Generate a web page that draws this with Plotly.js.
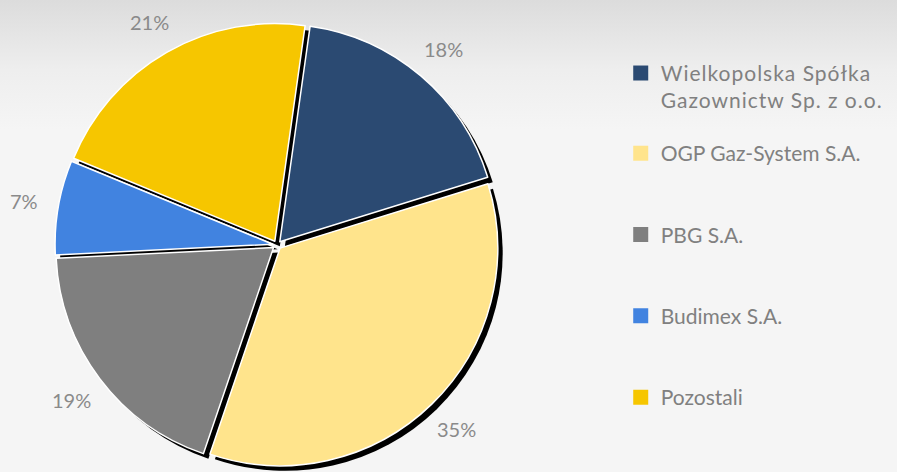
<!DOCTYPE html>
<html>
<head>
<meta charset="utf-8">
<script src="https://cdn.plot.ly/plotly-3.0.1.min.js"></script>
<style>
  html, body { margin: 0; padding: 0; }
  body { width: 897px; height: 472px; background: linear-gradient(#dcdcdc 0px, #eeeeee 70px, #f5f5f5 130px, #f5f5f5 472px); }
  #chart { width: 897px; height: 472px; }
  #chart .legendtext { letter-spacing: 1px; }
  #chart .legend .scrollbox { clip-path: none !important; }
</style>
</head>
<body>
<div id="chart"></div>
<script>
var labels = ['Wielkopolska Spółka<br>Gazownictw Sp. z o.o.', 'OGP Gaz-System S.A.', 'PBG S.A.', 'Budimex S.A.', 'Pozostali'];
var values = [18, 35, 19, 7, 21];
var colors = ['#2b4a72', '#ffe48c', '#7f7f7f', '#4183e0', '#f6c600'];

var W = 897, H = 472;
var PULL = 0.02;
var HALF = 222;            // half size of the pie domain, px
var CX = 277, CY = 227;    // pie centre, px from left / from bottom
var SHIFT = 5;             // shadow offset, px
var ROT = 8;

function dom(cx, cy) {
  return {x: [(cx - HALF) / W, (cx + HALF) / W], y: [Math.max(0, cy - HALF) / H, (cy + HALF) / H]};
}

var shadow = {
  type: 'pie', values: values, labels: labels, sort: false, direction: 'clockwise',
  rotation: ROT, pull: PULL, domain: dom(CX + SHIFT, CY - SHIFT),
  marker: {colors: values.map(function () { return '#000000'; })},
  textinfo: 'none', hoverinfo: 'skip', showlegend: false
};

var pie = {
  type: 'pie', values: values, labels: labels, sort: false, direction: 'clockwise',
  rotation: ROT, pull: PULL, domain: dom(CX, CY),
  marker: {colors: colors, line: {color: '#ffffff', width: 1.5}},
  textinfo: 'none', showlegend: false
};

// legend entries as separate traces so the gaps can be set
var data = [shadow, pie];
for (var i = 0; i < labels.length; i++) {
  data.push({
    type: 'scatter', x: [null], y: [null], mode: 'markers', name: labels[i],
    legendgroup: 'g' + i, legend: i === 0 ? 'legend' : 'legend2',
    marker: {symbol: 'square', size: 15, color: colors[i]}
  });
}

// percent labels outside the slices
var total = values.reduce(function (a, b) { return a + b; }, 0);
var R = HALF / (1 + PULL);
var annotations = [];
var start = ROT;
for (var i = 0; i < values.length; i++) {
  var span = values[i] / total * 360;
  var mid = (start + span / 2) * Math.PI / 180;
  start += span;
  var rr = R * 1.18;
  annotations.push({
    xref: 'paper', yref: 'paper', xanchor: 'center', yanchor: 'middle',
    x: (CX + rr * Math.sin(mid)) / W, y: (CY + rr * Math.cos(mid)) / H,
    text: Math.round(values[i] / total * 100) + '%', showarrow: false,
    font: {family: 'Lato, sans-serif', size: 20, color: '#8a8a8a'}
  });
}

var legendFont = {family: 'Lato, sans-serif', size: 21, color: '#808080'};
var layout = {
  width: W, height: H,
  margin: {l: 0, r: 0, t: 0, b: 0},
  paper_bgcolor: 'rgba(0,0,0,0)', plot_bgcolor: 'rgba(0,0,0,0)',
  xaxis: {visible: false}, yaxis: {visible: false},
  showlegend: true,
  legend: {
    x: 0.692, y: 0.888, xanchor: 'left', yanchor: 'top', valign: 'top',
    font: legendFont, bgcolor: 'rgba(0,0,0,0)'
  },
  legend2: {
    x: 0.692, y: 0.718, xanchor: 'left', yanchor: 'top', valign: 'top',
    traceorder: 'grouped', tracegroupgap: 51,
    font: legendFont, bgcolor: 'rgba(0,0,0,0)'
  },
  annotations: annotations
};

Plotly.newPlot('chart', data, layout, {displayModeBar: false, staticPlot: true});
</script>
</body>
</html>
